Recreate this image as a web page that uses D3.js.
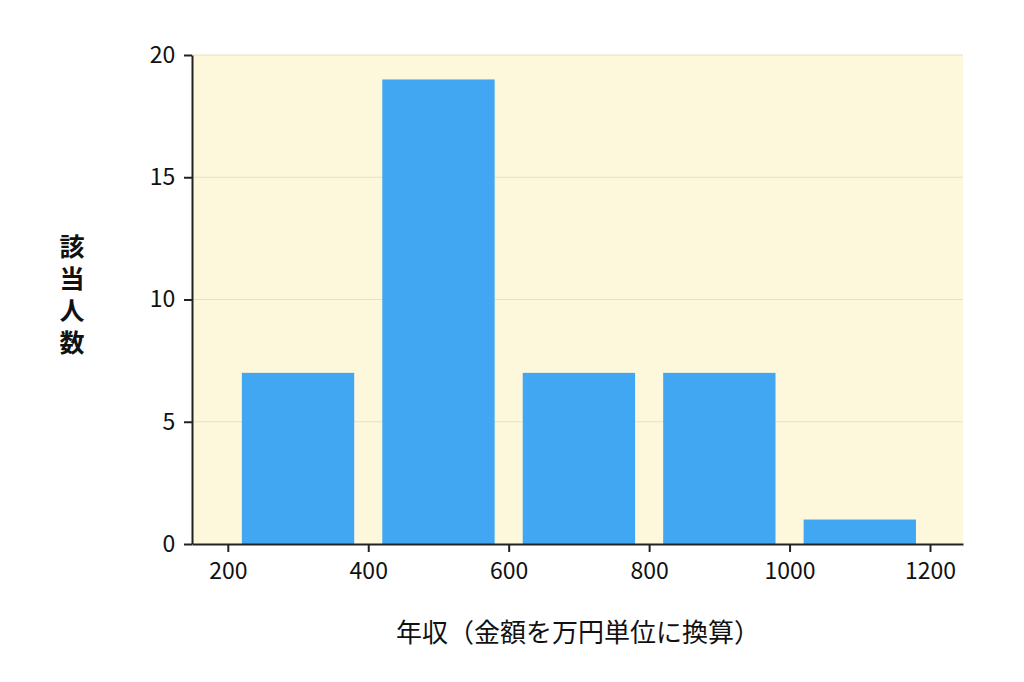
<!DOCTYPE html>
<html><head><meta charset="utf-8">
<script src="https://cdn.jsdelivr.net/npm/d3@7"></script>
<style>body{margin:0;background:#fff;font-family:"Noto Sans CJK JP","Noto Sans",sans-serif}</style>
</head><body><svg id="c" width="1024" height="682"></svg>
<script>
const binStarts = [200, 400, 600, 800, 1000];
const binWidth = 200;
const counts = [7, 19, 7, 7, 1];
const xTicks = [200, 400, 600, 800, 1000, 1200];
const yTicks = [0, 5, 10, 15, 20];

const svg = d3.select('#c');
const m = {l: 192, r: 963, t: 55, b: 544};
const x = d3.scaleLinear().domain([149, 1247]).range([m.l, m.r]);
const y = d3.scaleLinear().domain([0, 20]).range([m.b, m.t]);

svg.append('rect').attr('x', m.l).attr('y', m.t).attr('width', m.r - m.l).attr('height', m.b - m.t).attr('fill', '#fdf8dc');
svg.selectAll('.grid').data(yTicks.slice(1)).join('line')
  .attr('x1', m.l).attr('x2', m.r).attr('y1', d => y(d)).attr('y2', d => y(d))
  .attr('stroke', '#e6e0c4').attr('stroke-width', 1);

svg.selectAll('.bar').data(counts).join('rect')
  .attr('x', (d, i) => x(binStarts[i] + 20))
  .attr('width', (d, i) => x(binStarts[i] + binWidth - 20) - x(binStarts[i] + 20))
  .attr('y', d => y(d)).attr('height', d => y(0) - y(d))
  .attr('fill', '#42a7f2');

const xa = svg.append('g').attr('transform', `translate(0,${m.b})`)
  .call(d3.axisBottom(x).tickValues(xTicks).tickFormat(d3.format('d')).tickSize(8).tickSizeOuter(0));
const ya = svg.append('g').attr('transform', `translate(${m.l},0)`)
  .call(d3.axisLeft(y).tickValues(yTicks).tickSize(8).tickSizeOuter(0));
[xa, ya].forEach(a => {
  a.attr('font-size', 23).attr('font-family', '"Noto Sans CJK JP"');
  a.select('.domain').attr('stroke', '#222').attr('stroke-width', 2);
  a.selectAll('.tick line').attr('stroke', '#222').attr('stroke-width', 2);
  a.selectAll('text').attr('fill', '#111');
});
xa.selectAll('text').attr('dy', '1.05em');
ya.selectAll('text').attr('dx', '-0.25em');

svg.append('text').attr('x', 578).attr('y', 642).attr('text-anchor', 'middle')
  .attr('font-size', 26).attr('fill', '#111').text('年収（金額を万円単位に換算）');
const yl = '該当人数'.split('');
svg.selectAll('.yl').data(yl).join('text').attr('x', 72).attr('y', (d, i) => 256 + i * 32)
  .attr('text-anchor', 'middle').attr('font-size', 25).attr('font-weight', 'bold').attr('fill', '#111').text(d => d);
</script></body></html>
